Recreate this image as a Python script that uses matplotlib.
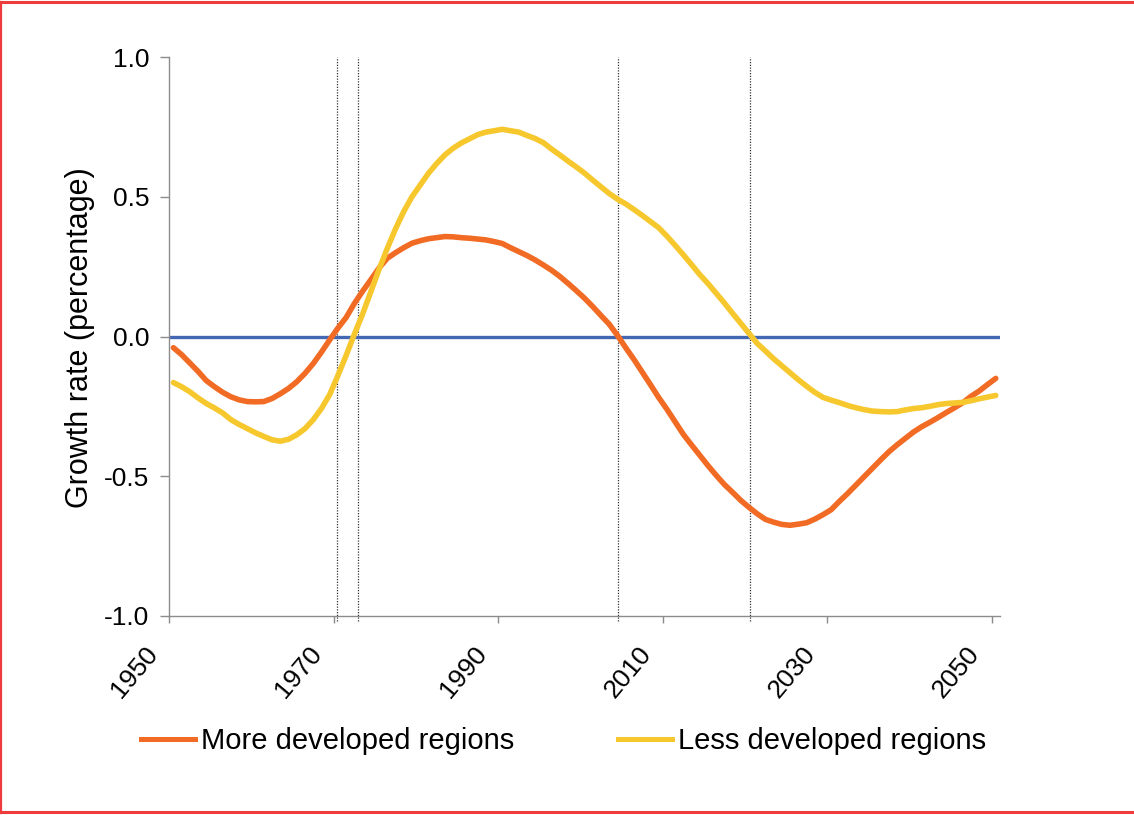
import matplotlib
matplotlib.use('Agg')
import matplotlib.pyplot as plt
import matplotlib.transforms as mtransforms
from matplotlib.lines import Line2D

plt.rcParams['font.family'] = ['Liberation Sans', 'DejaVu Sans']
plt.rcParams['axes.unicode_minus'] = False

# annual growth rates (percentage), 1950-2050
years = list(range(1950, 2051))

more_developed = [
    -0.040, -0.065, -0.095, -0.125, -0.158, -0.180, -0.200, -0.216, -0.227, -0.233,
    -0.234, -0.233, -0.222, -0.205, -0.186, -0.162, -0.132, -0.097, -0.056, -0.012,
    0.030, 0.068, 0.118, 0.162, 0.203, 0.245, 0.280, 0.300, 0.318, 0.334,
    0.343, 0.350, 0.354, 0.358, 0.357, 0.354, 0.352, 0.349, 0.346, 0.340,
    0.333, 0.318, 0.304, 0.290, 0.274, 0.256, 0.237, 0.215, 0.190, 0.164,
    0.137, 0.107, 0.075, 0.044, 0.004, -0.040, -0.082, -0.127, -0.172, -0.218,
    -0.260, -0.305, -0.350, -0.388, -0.425, -0.462, -0.497, -0.530, -0.558, -0.587,
    -0.612, -0.635, -0.655, -0.665, -0.673, -0.676, -0.672, -0.667, -0.654, -0.638,
    -0.620, -0.590, -0.562, -0.532, -0.502, -0.472, -0.442, -0.413, -0.388, -0.365,
    -0.342, -0.323, -0.307, -0.290, -0.272, -0.255, -0.237, -0.214, -0.195, -0.172,
    -0.150,
]

less_developed = [
    -0.165, -0.180, -0.198, -0.220, -0.240, -0.256, -0.274, -0.298, -0.315, -0.330,
    -0.345, -0.358, -0.370, -0.375, -0.368, -0.352, -0.330, -0.298, -0.258, -0.208,
    -0.140, -0.068, 0.008, 0.080, 0.160, 0.240, 0.315, 0.385, 0.447, 0.500,
    0.542, 0.584, 0.619, 0.650, 0.674, 0.693, 0.708, 0.723, 0.732, 0.737,
    0.742, 0.737, 0.732, 0.720, 0.709, 0.694, 0.671, 0.650, 0.628, 0.607,
    0.585, 0.560, 0.536, 0.512, 0.492, 0.475, 0.455, 0.434, 0.412, 0.390,
    0.360, 0.327, 0.293, 0.258, 0.222, 0.190, 0.155, 0.120, 0.083, 0.047,
    0.011, -0.025, -0.052, -0.080, -0.105, -0.130, -0.155, -0.178, -0.200, -0.218,
    -0.228, -0.237, -0.247, -0.255, -0.262, -0.267, -0.269, -0.270, -0.269, -0.263,
    -0.258, -0.255, -0.250, -0.244, -0.240, -0.238, -0.236, -0.230, -0.223, -0.217,
    -0.211,
]

# years where the growth rate changes sign
crossings = [1969.9, 1972.4, 2004.1, 2020.1]

tick_years = [1950, 1970, 1990, 2010, 2030, 2050]
y_ticks = [-1.0, -0.5, 0.0, 0.5, 1.0]

ORANGE = '#F26B24'
YELLOW = '#F6C82E'
BLUE = '#4467B4'
GREY = '#8C8C8C'

fig = plt.figure(figsize=(11.34, 8.15), dpi=100)
ax = fig.add_axes([0.1493, 0.2445, 0.7324, 0.6852])

ax.axhline(0, color=BLUE, lw=2.4, zorder=2)
for c in crossings:
    ax.plot([c, c], [-1.02, 1.0], color='#333333', lw=0.9,
            linestyle=(0, (1, 1.2)), zorder=1, clip_on=False)

ax.plot(years, more_developed, color=ORANGE, lw=4.0, zorder=3,
        solid_capstyle='round', label='More developed regions')
ax.plot(years, less_developed, color=YELLOW, lw=4.0, zorder=3,
        solid_capstyle='round', label='Less developed regions')

ax.set_xlim(1949.5, 2050.5)
ax.set_ylim(-1.0, 1.0)
# category style axis: ticks sit on the left boundary of each year
ax.set_xticks([t - 0.5 for t in tick_years])
ax.set_xticklabels([str(t) for t in tick_years], rotation=50,
                   ha='right', va='top', fontsize=19)
ax.set_yticks(y_ticks)
ax.set_yticklabels(['%.1f' % v for v in y_ticks], fontsize=19)

for side in ['top', 'right']:
    ax.spines[side].set_visible(False)
for side in ['left', 'bottom']:
    ax.spines[side].set_color(GREY)
    ax.spines[side].set_linewidth(1.0)
ax.tick_params(axis='y', length=6.5, width=1.0, color=GREY, pad=8)
ax.tick_params(axis='x', length=5, width=1.0, color=GREY, pad=14)

offset = mtransforms.ScaledTranslation(-7 / 100, 0, fig.dpi_scale_trans)
for lab in ax.get_xticklabels():
    lab.set_transform(lab.get_transform() + offset)

ax.set_ylabel('Growth rate (percentage)', fontsize=22)
ax.yaxis.set_label_coords(-0.0895, 0.498)

# legend, two separate entries placed like the original
h1 = Line2D([], [], color=ORANGE, lw=3.6)
h2 = Line2D([], [], color=YELLOW, lw=3.6)
common = dict(frameon=False, fontsize=21, handlelength=1.85,
              handletextpad=0.22, borderpad=0, borderaxespad=0)
leg1 = fig.legend([h1], ['More developed regions'], loc='center left',
                  bbox_to_anchor=(141 / 1134, 1 - 741 / 815), **common)
leg2 = fig.legend([h2], ['Less developed regions'], loc='center left',
                  bbox_to_anchor=(618 / 1134, 1 - 741 / 815), **common)

# red frame of the original picture
RED = '#EE3B3B'
fig.add_artist(Line2D([0.001, 1.0], [0.998, 0.998], color=RED, lw=2.2,
                      transform=fig.transFigure))
fig.add_artist(Line2D([0.0012, 0.0012], [0.003, 0.998], color=RED, lw=1.6,
                      transform=fig.transFigure))
fig.add_artist(Line2D([0.001, 1.0], [1 - 812 / 815, 1 - 812 / 815],
                      color=RED, lw=2.2, transform=fig.transFigure))

fig.savefig('out.png', dpi=100, facecolor='white')
